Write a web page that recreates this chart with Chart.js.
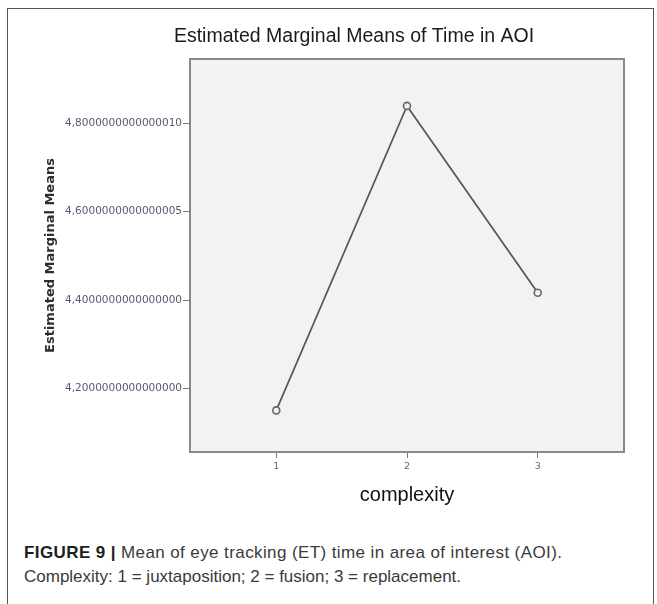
<!DOCTYPE html>
<html>
<head>
<meta charset="utf-8">
<script src="https://cdn.jsdelivr.net/npm/chart.js@4"></script>
<style>
  html, body { margin: 0; padding: 0; background: #fff; overflow: hidden; }
  #page { position: relative; width: 657px; height: 604px; }
  #frame { position: absolute; left: 7px; top: 8px; width: 647px; height: 640px; border: 1px solid #555; box-sizing: border-box; }
  #wrap { position: absolute; left: 0; top: 0; width: 657px; height: 520px; }
  #caption { position: absolute; left: 24px; top: 541px; font-family: "Liberation Sans", Arial, sans-serif; font-size: 17px; line-height: 24px; color: #3a3a3a; white-space: nowrap; }
  #caption .l1 { letter-spacing: 0.4px; }
  #caption b { color: #1e1e1e; }
</style>
</head>
<body>
<div id="page">
  <div id="frame"></div>
  <div id="wrap"><canvas id="c"></canvas></div>
  <div id="caption"><span class="l1"><b>FIGURE 9 |</b> Mean of eye tracking (ET) time in area of interest (AOI).</span><br>Complexity: 1 = juxtaposition; 2 = fusion; 3 = replacement.</div>
</div>
<script>
const chartTitle = "Estimated Marginal Means of Time in AOI";
const complexity = [1, 2, 3];
const meanTime = [4.151, 4.839, 4.417];
const yTicks = [4.2, 4.4, 4.6, 4.8];
const yTickLabels = ["4,2000000000000000", "4,4000000000000000", "4,6000000000000005", "4,8000000000000010"];

// grey plot box + title, SPSS style
const plotBox = {
  id: "plotBox",
  beforeDraw: (chart) => {
    const { ctx, chartArea: a } = chart;
    ctx.save();
    ctx.fillStyle = "#f2f2f2";
    ctx.fillRect(a.left, a.top, a.width, a.height);
    ctx.restore();
  },
  afterDraw: (chart) => {
    const { ctx, chartArea: a } = chart;
    ctx.save();
    ctx.strokeStyle = "#8a8a8a";
    ctx.lineWidth = 2;
    ctx.strokeRect(a.left, a.top, a.width, a.height);
    ctx.font = "19.5px 'Liberation Sans', Arial, sans-serif";
    ctx.fillStyle = "#1a1a1a";
    ctx.textAlign = "center";
    ctx.textBaseline = "middle";
    ctx.fillText(chartTitle, 354, 37);
    ctx.restore();
  }
};

new Chart(document.getElementById("c"), {
  type: "line",
  plugins: [plotBox],
  data: {
    datasets: [{
      data: complexity.map((x, i) => ({ x: x, y: meanTime[i] })),
      borderColor: "#555",
      borderWidth: 1.7,
      pointRadius: 3.5,
      pointBorderWidth: 1.6,
      pointBorderColor: "#666",
      pointBackgroundColor: "#f2f2f2",
      tension: 0
    }]
  },
  options: {
    responsive: true,
    maintainAspectRatio: false,
    animation: false,
    layout: { padding: { left: 40, right: 33, top: 59, bottom: 8 } },
    plugins: { legend: { display: false }, tooltip: { enabled: false }, title: { display: false } },
    scales: {
      x: {
        type: "linear",
        min: 0.34,
        max: 3.66,
        afterBuildTicks: (s) => { s.ticks = complexity.map(v => ({ value: v })); },
        afterFit: (s) => { s.height = 60; },
        border: { display: false },
        grid: { drawOnChartArea: false, drawTicks: true, tickLength: 6, color: "#777", tickWidth: 1 },
        ticks: { font: { size: 9.5, family: "DejaVu Sans" }, color: "#666", padding: 3, maxRotation: 0 },
        title: { display: true, text: "complexity", color: "#111", font: { size: 20, family: "Liberation Sans" }, padding: { top: 0, bottom: 5 } }
      },
      y: {
        min: 4.057,
        max: 4.945,
        afterBuildTicks: (s) => { s.ticks = yTicks.map(v => ({ value: v })); },
        afterFit: (s) => { s.width = 150; },
        border: { display: false },
        grid: { drawOnChartArea: false, drawTicks: true, tickLength: 7, color: "#777", tickWidth: 1 },
        ticks: {
          font: { size: 10.5, family: "DejaVu Sans" },
          color: "#555a75",
          padding: 1,
          callback: (v) => yTickLabels[yTicks.indexOf(v)]
        },
        title: { display: true, text: "Estimated Marginal Means", color: "#2e2e2e", font: { size: 13, weight: "bold", family: "DejaVu Sans" }, padding: { top: 3, bottom: 0 } }
      }
    }
  }
});
</script>
</body>
</html>
